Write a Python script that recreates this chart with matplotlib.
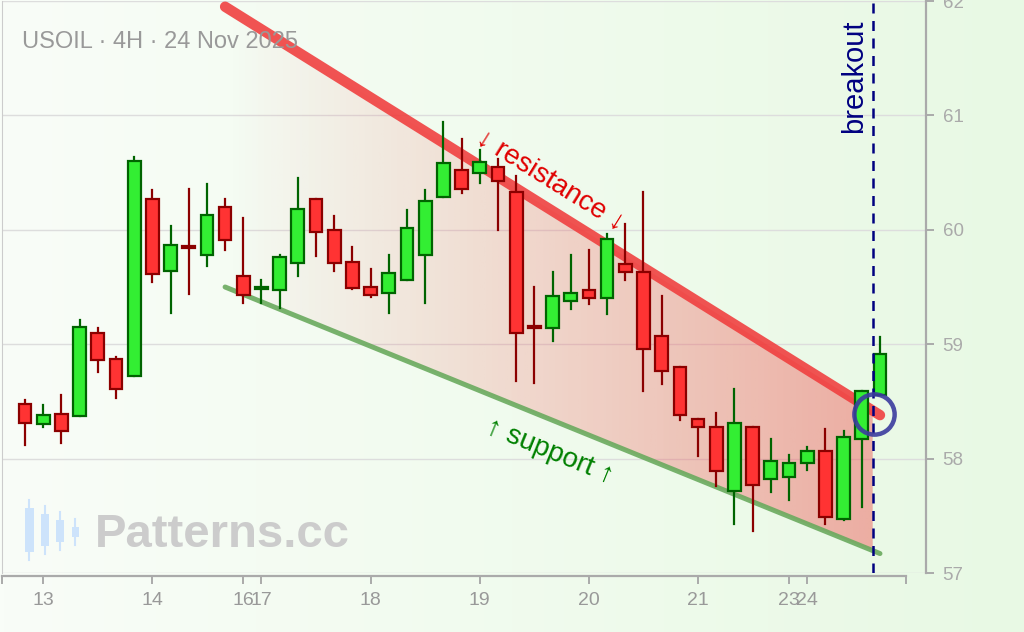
import numpy as np
import matplotlib.pyplot as plt
from matplotlib.patches import Rectangle, Polygon

plt.rcParams['font.family'] = ['Liberation Sans', 'DejaVu Sans']

# 4H candles, OHLC
opens = [58.48, 58.30, 58.39, 58.37, 59.10, 58.87, 58.72, 60.27, 59.64, 59.85,
         59.78, 60.20, 59.60, 59.48, 59.47, 59.71, 60.27, 60.00, 59.72, 59.50,
         59.45, 59.56, 59.78, 60.29, 60.52, 60.50, 60.55, 60.33, 59.15, 59.14,
         59.38, 59.47, 59.40, 59.70, 59.63, 59.07, 58.80, 58.35, 58.28, 57.72,
         58.28, 57.82, 57.84, 57.96, 58.07, 57.47, 58.17, 58.56]
highs = [58.51, 58.47, 58.56, 59.21, 59.14, 58.89, 60.64, 60.35, 60.03, 60.36,
         60.40, 60.27, 60.10, 59.56, 59.78, 60.45, 60.27, 60.12, 59.85, 59.66,
         59.78, 60.17, 60.35, 60.94, 60.79, 60.70, 60.62, 60.47, 59.50, 59.63,
         59.78, 59.82, 59.96, 60.05, 60.33, 59.42, 58.80, 58.35, 58.40, 58.61,
         58.28, 58.17, 58.03, 58.10, 58.26, 58.24, 58.59, 59.06]
lows = [58.12, 58.28, 58.14, 58.37, 58.76, 58.53, 58.72, 59.54, 59.27, 59.44,
        59.68, 59.82, 59.36, 59.36, 59.32, 59.60, 59.77, 59.64, 59.48, 59.41,
        59.27, 59.56, 59.36, 60.29, 60.32, 60.41, 60.00, 58.68, 58.66, 59.03,
        59.31, 59.35, 59.26, 59.56, 58.59, 58.65, 58.34, 58.02, 57.76, 57.43,
        57.37, 57.71, 57.64, 57.90, 57.43, 57.46, 57.58, 58.56]
closes = [58.31, 58.38, 58.24, 59.15, 58.86, 58.61, 60.60, 59.61, 59.87, 59.84,
          60.13, 59.91, 59.43, 59.50, 59.76, 60.18, 59.98, 59.71, 59.49, 59.43,
          59.62, 60.02, 60.25, 60.58, 60.36, 60.59, 60.43, 59.10, 59.14, 59.42,
          59.45, 59.40, 59.92, 59.63, 58.96, 58.77, 58.38, 58.28, 57.89, 58.31,
          57.77, 57.98, 57.96, 58.07, 57.49, 58.19, 58.59, 58.91]

# day labels (candle index of first bar of the day)
day_idx = [1, 7, 12, 13, 19, 25, 31, 37, 42, 43]
day_labels = ['13', '14', '16', '17', '18', '19', '20', '21', '23', '24']
price_ticks = [57, 58, 59, 60, 61, 62]

# channel lines: (index, price) at both ends
res_x = [11, 47]
res_y = [61.95, 58.38]
sup_x = [11, 47]
sup_y = [59.50, 57.17]
breakout_x = 46.6

fig = plt.figure(figsize=(10.24, 6.32), dpi=100)

# background gradient
bg = fig.add_axes([0, 0, 1, 1], zorder=-10)
g = np.linspace(0, 1, 256)
c0 = np.array([249, 253, 248]) / 255
c1 = np.array([232, 249, 228]) / 255
img = c0[None, :] * (1 - g[:, None]) + c1[None, :] * g[:, None]
bg.imshow(img[None, :, :], aspect='auto', extent=[0, 1, 0, 1])
bg.axis('off')

ax = fig.add_axes([2 / 1024, 59 / 632, 924 / 1024, 572 / 632])
ax.set_facecolor('none')
ax.set_xlim(-1.264, 49.53)
ax.set_ylim(57, 62)

# channel fill with left-to-right alpha gradient
xs = np.array([res_x[0], breakout_x])
top = np.interp(xs, res_x, res_y)
bot = np.interp(xs, sup_x, sup_y)
poly = Polygon([(xs[0], top[0]), (xs[1], top[1]), (xs[1], bot[1]), (xs[0], bot[0])],
               closed=True, facecolor='none', edgecolor='none')
ax.add_patch(poly)
grad = np.zeros((2, 256, 4))
grad[..., 0] = 240 / 255
grad[..., 1] = 60 / 255
grad[..., 2] = 60 / 255
grad[..., 3] = np.linspace(0.0, 0.4, 256)[None, :]
im = ax.imshow(grad, aspect='auto', extent=[xs[0], xs[1], 57, 62], zorder=1)
im.set_clip_path(poly)

ax.plot(res_x, res_y, color='#f03c3c', lw=7.5, alpha=0.88, solid_capstyle='round', zorder=2)
ax.plot(sup_x, sup_y, color='#6aaa5e', lw=3.6, alpha=0.9, solid_capstyle='round', zorder=2)

# candles
w = 0.7
for i in range(len(opens)):
    o, h, l, c = opens[i], highs[i], lows[i], closes[i]
    if c >= o:
        fc, ec = '#33ee33', '#006400'
    else:
        fc, ec = '#ff3333', '#8b0000'
    ax.plot([i, i], [l, h], color=ec, lw=1.6, zorder=3)
    body = max(abs(c - o), 0.015)
    ax.add_patch(Rectangle((i - w / 2, min(o, c)), w, body, facecolor=fc,
                           edgecolor=ec, lw=1.6, zorder=4))

ax.axvline(breakout_x, color='#000080', lw=1.8, ls=(0, (4, 3)), zorder=5)
ax.plot([46.67], [58.39], 'o', ms=29, mfc='none', mec='#3b3b9e', mew=3.2, alpha=0.9, zorder=6)

ax.text(45.6, 61.84, 'breakout', rotation=90, ha='center', va='top',
        color='#000080', fontsize=21, zorder=6)
ax.text(28.86, 60.43, '↓ resistance ↓', rotation=-31.8, rotation_mode='anchor',
        ha='center', va='center', color='#e00000', fontsize=20, zorder=6)
ax.text(28.86, 58.06, '↑ support ↑', rotation=-22.2, rotation_mode='anchor',
        ha='center', va='center', color='#008000', fontsize=20, zorder=6)

# axes styling
ax.spines['top'].set_visible(False)
ax.spines['left'].set_color('#cccccc')
ax.spines['bottom'].set_color('#aaaaaa')
ax.spines['right'].set_color('#aaaaaa')
ax.spines['bottom'].set_linewidth(1.6)
ax.spines['right'].set_linewidth(1.6)
ax.spines['bottom'].set_bounds(-1.264, 48.43)
ax.spines['bottom'].set_position(('outward', 2))

ax.set_xticks([-1.264] + day_idx + [48.43])
ax.set_xticklabels([''] + day_labels + [''])
ax.tick_params(axis='x', colors='#aaaaaa', labelcolor='#999999', length=6, width=1.4,
               labelsize=14, pad=6)
ax.yaxis.tick_right()
ax.set_yticks(price_ticks)
ax.tick_params(axis='y', colors='#aaaaaa', labelcolor='#aaaaaa', length=6, width=1.4,
               labelsize=13.5, pad=6)
ax.grid(axis='y', color='#dddddd', lw=1)
ax.set_axisbelow(True)

fig.text(22 / 1024, 1 - 42 / 632, 'USOIL · 4H · 24 Nov 2025', color='#999999',
         fontsize=17, va='center', ha='left')

# watermark
fig.text(95 / 1024, 1 - 535 / 632, 'Patterns.cc', color='#cccccc', fontsize=34,
         fontweight='bold', va='center', ha='left')
logo = [(29, 500, 560, 9), (45, 506, 554, 8), (60, 512, 550, 8), (75, 519, 545, 7)]
for lx, ly0, ly1, lw_ in logo:
    fig.add_artist(plt.Line2D([lx / 1024, lx / 1024], [1 - ly1 / 632, 1 - ly0 / 632],
                              color='#cde3fb', lw=1.5))
    fig.add_artist(Rectangle(((lx - lw_ / 2) / 1024, 1 - (ly1 - 8) / 632), lw_ / 1024,
                             (ly1 - ly0 - 16) / 632, facecolor='#cde3fb', edgecolor='none'))

fig.savefig('out.png', dpi=100)
